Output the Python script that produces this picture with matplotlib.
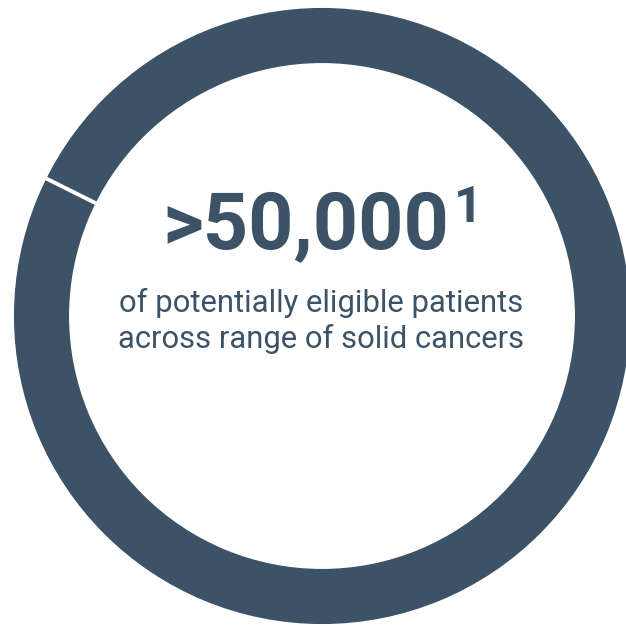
import matplotlib.pyplot as plt

# donut: one full segment plus an empty one, which leaves the white seam
share = [100, 0]
start_angle = 153.5
ring_color = "#3c5267"

headline = ">50,000"
footnote = "1"
caption = ["of potentially eligible patients", "across range of solid cancers"]

fig = plt.figure(figsize=(6.26, 6.26), dpi=100)
ax = fig.add_axes([0, 0, 1, 1])

# y axis is flipped below, so the start angle is mirrored
ax.pie(share, center=(322, 316), radius=310, startangle=-start_angle,
       colors=[ring_color, ring_color],
       wedgeprops=dict(width=59, edgecolor="white", linewidth=2.8))
ax.set_xlim(0, 626)
ax.set_ylim(626, 0)
ax.set_aspect("equal")
ax.axis("off")

big = ax.text(306, 248, headline, ha="center", va="baseline",
              fontsize=57, fontweight="bold", family="Roboto", color=ring_color)
ax.annotate(footnote, xy=(1.0, 1.0), xycoords=big, xytext=(3, 3),
            textcoords="offset points", ha="left", va="top",
            fontsize=36, fontweight="bold", family="Roboto", color=ring_color)

for i, line in enumerate(caption):
    ax.text(321, 312 + i * 36, line, ha="center", va="baseline",
            fontsize=22.3, family="Roboto", color=ring_color)

fig.savefig("out.png", dpi=100, facecolor="white")
